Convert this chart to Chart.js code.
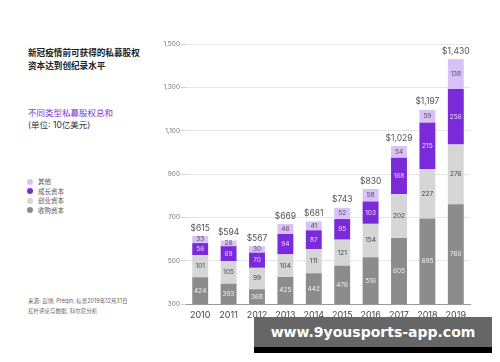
<!DOCTYPE html>
<html lang="zh">
<head>
    <meta charset="UTF-8">
    <title>私募股权资本</title>
    <script src="https://cdn.jsdelivr.net/npm/chart.js"></script>
    <style>
        body {
            margin: 0;
            width: 500px;
            height: 362px;
            background: #fff;
            font-family: Inter, "Noto Sans CJK SC", sans-serif;
            position: relative;
            overflow: hidden;
        }
        .txt { position: absolute; white-space: nowrap; }
        .title { left: 28px; top: 47px; font-size: 8.6px; font-weight: bold; color: #222; line-height: 13px; }
        .sub { left: 28px; top: 107px; font-size: 8.5px; color: #333; line-height: 12px; }
        .sub span { color: #7a35d4; }
        .legend { left: 27px; top: 178px; font-size: 6.5px; color: #555; line-height: 9.6px; }
        .legend i { display: inline-block; width: 6px; height: 6px; border-radius: 50%; margin-right: 5px; vertical-align: -0.5px; }
        .source { left: 28px; top: 296px; font-size: 5.5px; color: #666; line-height: 10px; }
        #wrap { position: absolute; left: 150px; top: 34px; width: 330px; height: 296px; }
        .mark { position: absolute; left: 254px; top: 317px; width: 238px; height: 30px; background: #666;
                color: #fff; font-family: "DejaVu Sans", sans-serif; font-weight: bold; font-size: 14px;
                line-height: 30px; text-align: center; }
        .strip { position: absolute; left: 254px; top: 347px; width: 238px; height: 6px; background: #000; }
    </style>
</head>
<body>

<div class="txt title">新冠疫情前可获得的私募股权<br>资本达到创纪录水平</div>
<div class="txt sub"><span>不同类型私募股权总和</span><br>(单位: 10亿美元)</div>
<div class="txt legend" id="legend"></div>
<div class="txt source">来源: 彭博; Preqin; 标普2019年12月31日<br>杠杆评论与数据; 科尔尼分析</div>

<div id="wrap"><canvas id="chart"></canvas></div>

<div class="mark">www.9yousports-app.com</div>
<div class="strip"></div>

<script>
// Données
const years = ["2010", "2011", "2012", "2013", "2014", "2015", "2016", "2017", "2018", "2019"];
const buyout = [424, 393, 368, 425, 442, 476, 516, 605, 695, 760];
const venture = [101, 105, 99, 104, 111, 121, 154, 202, 227, 276];
const growth = [56, 69, 70, 94, 87, 95, 103, 168, 215, 256];
const other = [33, 26, 30, 46, 41, 52, 58, 54, 59, 138];
const totals = [615, 594, 567, 669, 681, 743, 830, 1029, 1197, 1430];
const yTicks = [300, 500, 700, 900, 1100, 1300, 1500];

const series = [
    { label: "收购资本", data: buyout, color: "#8c8c8c", text: "#f2f2f2" },
    { label: "创业资本", data: venture, color: "#d6d6d6", text: "#444" },
    { label: "成长资本", data: growth, color: "#7a2ad8", text: "#eadcff" },
    { label: "其他", data: other, color: "#d8c2f5", text: "#5a4a6a" }
];

// Légende HTML (ordre inverse)
document.getElementById('legend').innerHTML = series.slice().reverse()
    .map(s => `<div><i style="background:${s.color}"></i>${s.label}</div>`).join('');

// Étiquettes sur les barres et totaux
const labelPlugin = {
    id: 'labels',
    afterDatasetsDraw(chart) {
        const ctx = chart.ctx;
        const y = chart.scales.y;
        const min = y.min;
        ctx.save();
        ctx.textAlign = 'center';
        ctx.textBaseline = 'middle';
        years.forEach((yr, i) => {
            let start = 0;
            let x = 0;
            ctx.font = '6.5px Inter, sans-serif';
            series.forEach((s, d) => {
                const end = start + s.data[i];
                const vs = Math.max(start, min);
                const bar = chart.getDatasetMeta(d).data[i];
                x = bar.x;
                ctx.fillStyle = s.text;
                ctx.fillText(String(s.data[i]), x, y.getPixelForValue((vs + end) / 2));
                start = end;
            });
            ctx.fillStyle = '#555';
            ctx.font = '8.5px Inter, sans-serif';
            ctx.fillText('$' + totals[i].toLocaleString('en-US'), x, y.getPixelForValue(start) - 8);
        });
        ctx.restore();
    }
};

new Chart(document.getElementById('chart'), {
    type: 'bar',
    data: {
        labels: years,
        datasets: series.map(s => ({
            label: s.label,
            data: s.data,
            backgroundColor: s.color,
            borderWidth: 0,
            barPercentage: 0.56,
            categoryPercentage: 1
        }))
    },
    options: {
        responsive: true,
        maintainAspectRatio: false,
        animation: false,
        layout: { padding: { top: 10, right: 10, left: 0, bottom: 0 } },
        plugins: { legend: { display: false }, tooltip: { enabled: false } },
        scales: {
            x: {
                stacked: true,
                grid: { display: false, drawTicks: false },
                border: { display: true, color: '#9a9a9a', width: 1 },
                ticks: { color: '#444', font: { size: 9, family: 'Inter' }, padding: 6, maxRotation: 0 },
                afterFit(axis) { axis.height = 26; }
            },
            y: {
                stacked: true,
                min: 300,
                max: 1500,
                grid: { color: '#e6e6e6', tickLength: 5, tickColor: '#cfcfcf' },
                border: { display: false },
                ticks: {
                    stepSize: 100,
                    autoSkip: false,
                    color: '#777',
                    font: { size: 6.5, family: 'Inter' },
                    padding: 1,
                    // seules les graduations de la liste sont affichées
                    callback: v => yTicks.includes(v) ? v.toLocaleString('en-US') : null
                },
                afterFit(axis) { axis.width = 36; }
            }
        }
    },
    plugins: [labelPlugin]
});
</script>

</body>
</html>
